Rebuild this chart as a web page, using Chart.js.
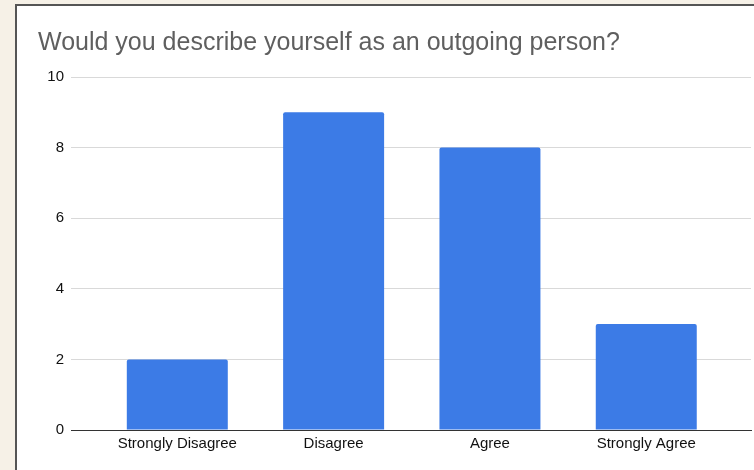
<!DOCTYPE html>
<html>
<head>
<meta charset="utf-8">
<script src="https://cdn.jsdelivr.net/npm/chart.js@4.4.1/dist/chart.umd.min.js"></script>
<style>
  html, body { margin: 0; padding: 0; width: 754px; height: 470px; overflow: hidden; background: #f6f1e7; }
  #frame { position: absolute; left: 15px; top: 4px; width: 760px; height: 480px; background: #fff;
           border-left: 2px solid #555; border-top: 2px solid #555; }
  #wrap { position: absolute; left: 0; top: 0; width: 754px; height: 470px; }
</style>
</head>
<body>
<div id="frame"></div>
<div id="wrap"><canvas id="c" width="754" height="470"></canvas></div>
<script>
const chartTitle = "Would you describe yourself as an outgoing person?";
const categories = ["Strongly Disagree", "Disagree", "Agree", "Strongly Agree"];
const counts = [2, 9, 8, 3];
const yTicks = [0, 2, 4, 6, 8, 10];

const points = categories.map((c, i) => ({ x: i, y: counts[i] }));
const FONT = "'Liberation Sans', Arial, sans-serif";

new Chart(document.getElementById('c'), {
  type: 'bar',
  data: {
    datasets: [{
      data: points,
      backgroundColor: '#3c7be6',
      borderWidth: 0,
      borderRadius: 2,
      categoryPercentage: 1,
      barPercentage: 0.646
    }]
  },
  options: {
    responsive: false,
    animation: false,
    devicePixelRatio: 1,
    layout: { padding: { left: 38, right: 3, top: 0, bottom: 0 } },
    plugins: {
      legend: { display: false },
      tooltip: { enabled: false },
      title: {
        display: true,
        text: chartTitle,
        align: 'start',
        color: '#5f5f5f',
        font: { family: FONT, size: 25, weight: 'normal' },
        padding: { top: 28, bottom: 19 }
      }
    },
    scales: {
      x: {
        type: 'linear',
        offset: false,
        min: -0.68,
        max: 3.67,
        grid: { display: false, drawTicks: false, offset: false },
        border: { display: true, color: '#333', width: 1 },
        afterFit: s => { s.height = 40; },
        ticks: {
          stepSize: 1,
          includeBounds: false,
          autoSkip: false,
          maxRotation: 0,
          padding: 5,
          color: '#111',
          font: { family: FONT, size: 15 },
          callback: v => (Number.isInteger(v) && categories[v] !== undefined) ? categories[v] : ''
        }
      },
      y: {
        min: yTicks[0],
        max: yTicks[yTicks.length - 1],
        afterFit: s => { s.width = 33; },
        afterBuildTicks: s => { s.ticks = yTicks.map(v => ({ value: v })); },
        grid: {
          drawTicks: false,
          color: ctx => (ctx.tick && ctx.tick.value === 0) ? '#333' : '#d9d9d9',
          lineWidth: 1
        },
        border: { display: false },
        ticks: {
          padding: 7,
          color: '#111',
          font: { family: FONT, size: 15 }
        }
      }
    }
  }
});
</script>
</body>
</html>
